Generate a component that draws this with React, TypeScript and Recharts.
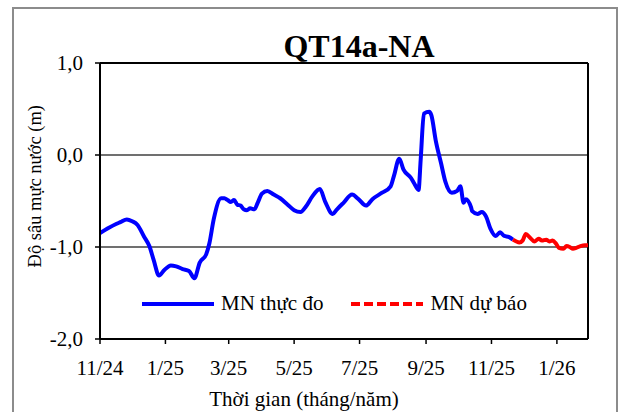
import React from 'react'
import { LineChart, Line, XAxis, YAxis, ReferenceLine, Legend } from 'recharts'

// x = days since 1 Nov 2024
const X_TICKS = [0, 61, 120, 181, 242, 304, 365, 426]
const X_TICK_LABELS = ['11/24', '1/25', '3/25', '5/25', '7/25', '9/25', '11/25', '1/26']
const Y_TICKS = [-2, -1, 0, 1]

const obsDays = [
  0, 7, 15, 19, 25, 30, 35, 41, 46, 50, 55, 60, 66, 71, 77, 83, 88, 93, 99, 102,
  106, 113, 116, 119, 122, 125, 128, 131, 134, 137, 140, 144, 147, 151, 156, 162,
  168, 175, 181, 187, 192, 198, 205, 210, 217, 221, 227, 235, 241, 248, 254, 263,
  271, 274, 279, 283, 290, 293, 297, 299, 302, 307, 309, 313, 318, 322, 328, 333,
  336, 339, 341, 346, 347, 352, 356, 360, 364, 369, 373, 377, 381, 385,
]
const obsLevels = [
  -0.85, -0.8, -0.75, -0.73, -0.7, -0.72, -0.76, -0.885, -0.99, -1.14, -1.31, -1.25,
  -1.2, -1.21, -1.24, -1.26, -1.34, -1.17, -1.08, -0.96, -0.7, -0.47, -0.47, -0.49,
  -0.51, -0.49, -0.54, -0.55, -0.59, -0.6, -0.58, -0.59, -0.52, -0.42, -0.39, -0.43,
  -0.47, -0.54, -0.6, -0.62, -0.56, -0.45, -0.37, -0.51, -0.64, -0.59, -0.52, -0.43,
  -0.48, -0.55, -0.48, -0.41, -0.34, -0.23, -0.04, -0.16, -0.25, -0.31, -0.38, -0.05,
  0.45, 0.47, 0.43, 0.16, -0.09, -0.29, -0.41, -0.39, -0.34, -0.52, -0.48, -0.57,
  -0.61, -0.64, -0.62, -0.67, -0.8, -0.88, -0.84, -0.88, -0.89, -0.92,
]

const fcDays = [385, 391, 394, 397, 401, 405, 409, 412, 416, 419, 422, 425, 428, 432, 435, 438, 441, 444, 448, 452, 455]
const fcLevels = [
  -0.92, -0.95, -0.93, -0.86, -0.9, -0.94, -0.91, -0.93, -0.92, -0.94, -0.93, -0.96,
  -1.01, -1.02, -0.99, -1.0, -1.02, -1.01, -0.99, -0.98, -0.98,
]

const observed = obsDays.map((day, i) => ({ day, level: obsLevels[i] }))
const forecast = fcDays.map((day, i) => ({ day, level: fcLevels[i] }))

const FONT = 'Liberation Serif, Times New Roman, DejaVu Serif, Noto Serif, serif'
const tickStyle = { fontSize: 21, fill: '#000', fontFamily: FONT }
const fmtY = (v: number) => v.toFixed(1).replace('.', ',')
const fmtX = (v: number) => X_TICK_LABELS[X_TICKS.indexOf(v)] ?? ''

const renderLegend = () => (
  <div style={{ display: 'flex', alignItems: 'center', fontFamily: FONT, fontSize: 21, color: '#000', whiteSpace: 'nowrap' }}>
    <svg width={72} height={10}>
      <line x1={0} y1={5} x2={72} y2={5} stroke="#0000FF" strokeWidth={4} />
    </svg>
    <span style={{ marginLeft: 7 }}>MN thực đo</span>
    <svg width={72} height={10} style={{ marginLeft: 28 }}>
      <line x1={0} y1={5} x2={72} y2={5} stroke="#FF0000" strokeWidth={4} strokeDasharray="9 4" />
    </svg>
    <span style={{ marginLeft: 7 }}>MN dự báo</span>
  </div>
)

export default function App() {
  return (
    <div style={{ position: 'absolute', left: 0, top: 0, width: 618, height: 412, overflow: 'hidden', background: '#fff', fontFamily: FONT }}>
      <div style={{ position: 'absolute', left: 12, top: 7, width: 602, height: 420, border: '2px solid #8c8c8c' }} />
      <div style={{ position: 'absolute', left: 0, top: 30, width: 718, textAlign: 'center', fontSize: 32, fontWeight: 'bold', lineHeight: 1 }}>
        QT14a-NA
      </div>
      <div style={{ position: 'absolute', left: -65, top: 177, width: 200, textAlign: 'center', fontSize: 18.5, lineHeight: 1, transform: 'rotate(-90deg)', whiteSpace: 'nowrap' }}>
        Độ sâu mực nước (m)
      </div>
      <div style={{ position: 'absolute', left: 154, top: 389, width: 300, textAlign: 'center', fontSize: 21, lineHeight: 1, whiteSpace: 'nowrap' }}>
        Thời gian (tháng/năm)
      </div>
      <div style={{ position: 'absolute', left: 0, top: 0 }}>
        <LineChart width={618} height={412} margin={{ top: 63, right: 30, bottom: 43, left: 50 }}>
          <XAxis
            dataKey="day"
            type="number"
            domain={[0, 455]}
            ticks={X_TICKS}
            tickFormatter={fmtX}
            allowDataOverflow
            height={30}
            tick={tickStyle}
            tickSize={5}
            tickMargin={16}
            axisLine={{ stroke: '#000', strokeWidth: 2 }}
            tickLine={{ stroke: '#000', strokeWidth: 1.5 }}
          />
          <YAxis
            type="number"
            domain={[-2, 1]}
            ticks={Y_TICKS}
            tickFormatter={fmtY}
            width={50}
            tick={tickStyle}
            tickSize={5}
            tickMargin={12}
            axisLine={{ stroke: '#000', strokeWidth: 2 }}
            tickLine={{ stroke: '#000', strokeWidth: 1.5 }}
          />
          <ReferenceLine y={0} stroke="#404040" strokeWidth={1.5} />
          <ReferenceLine y={-1} stroke="#404040" strokeWidth={1.5} />
          <ReferenceLine y={1} stroke="#000" strokeWidth={2} />
          <ReferenceLine x={455} stroke="#000" strokeWidth={2} />
          <Legend
            layout="horizontal"
            verticalAlign="middle"
            align="center"
            content={renderLegend}
            wrapperStyle={{ position: 'absolute', left: 142, top: 291, width: 'auto', height: 'auto' }}
          />
          <Line
            data={observed}
            dataKey="level"
            type="monotone"
            stroke="#0000FF"
            strokeWidth={4}
            dot={false}
            isAnimationActive={false}
          />
          <Line
            data={forecast}
            dataKey="level"
            type="monotone"
            stroke="#FF0000"
            strokeWidth={4}
            dot={false}
            isAnimationActive={false}
          />
        </LineChart>
      </div>
    </div>
  )
}
